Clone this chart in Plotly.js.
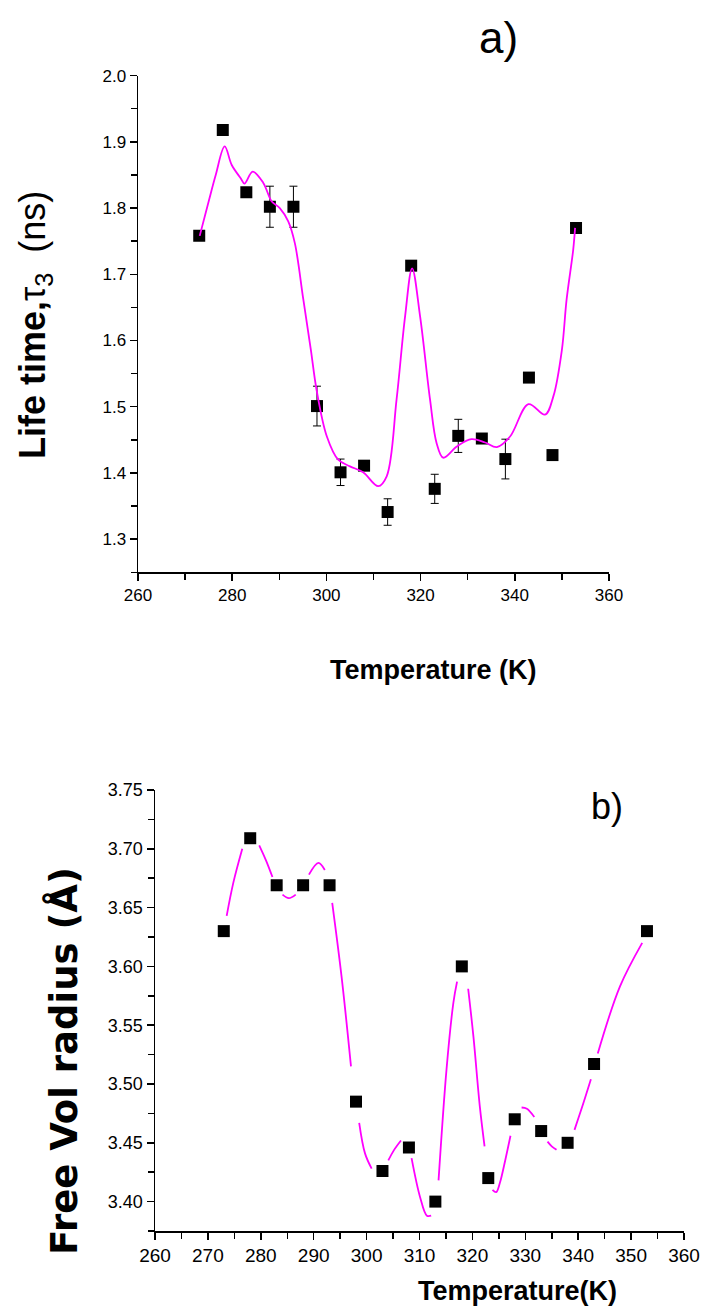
<!DOCTYPE html>
<html>
<head>
<meta charset="utf-8">
<script src="https://cdn.plot.ly/plotly-3.0.1.min.js"></script>
<style>html,body{margin:0;padding:0;background:#fff;}#chart{width:708px;height:1310px;}</style>
</head>
<body>
<div id="chart"></div>
<script>
// ---- Panel a) : positron lifetime tau3 ----
const tempA = [273, 278, 283, 288, 293, 298, 303, 308, 313, 318, 323, 328, 333, 338, 343, 348, 353];
const tau3 = [1.758, 1.918, 1.824, 1.802, 1.802, 1.501, 1.401, 1.411, 1.341, 1.713, 1.376, 1.456, 1.452, 1.421, 1.544, 1.427, 1.770];
const tau3Err = [0, 0, 0, 0.031, 0.031, 0.030, 0.020, 0, 0.020, 0, 0.022, 0.025, 0, 0.030, 0, 0, 0];
const fitTempA = [273.1, 275.0, 276.5, 278.4, 279.9, 281.8, 282.6, 284.35, 286.6, 288.4, 290.1, 291.9, 293.3, 295.1, 296.7, 297.9, 300.1, 302.5, 305.0, 307.8, 311.0, 312.8, 314.9, 316.7, 318.2, 319.9, 322.0, 323.4, 324.8, 327.7, 330.8, 333.7, 336.2, 339.0, 342.9, 346.4, 348.2, 350.0, 351.0, 352.4, 352.8];
const fitTau3 = [1.758, 1.810, 1.850, 1.893, 1.865, 1.845, 1.837, 1.855, 1.838, 1.810, 1.800, 1.780, 1.747, 1.662, 1.586, 1.526, 1.455, 1.420, 1.410, 1.401, 1.380, 1.395, 1.511, 1.636, 1.709, 1.636, 1.511, 1.445, 1.423, 1.440, 1.451, 1.446, 1.439, 1.455, 1.504, 1.488, 1.516, 1.586, 1.662, 1.737, 1.770];

// ---- Panel b) : free volume radius ----
const tempB = [273, 278, 283, 288, 293, 298, 303, 308, 313, 318, 323, 328, 333, 338, 343, 353];
const radius = [3.630, 3.709, 3.669, 3.669, 3.669, 3.485, 3.426, 3.446, 3.400, 3.600, 3.420, 3.470, 3.460, 3.450, 3.517, 3.630];
// fitted curve, broken (null) where it passes the symbols
const fitTempB = [273.55, 274.8, 276.5, null, 279.7, 281.0, 282.2, null, 284.1, 285.3, 286.6, null, 289.1, 290.9, 292.1, null, 293.5, 295.3, 297.05, null, 298.6, 299.7, 300.96, null, 304.1, 305.2, 306.5, null, 308.5, 310.1, 311.4, 312.2, null, 313.6, 315.1, 316.4, 317.1, null, 319.2, 320.2, 321.4, 322.3, null, 323.8, 324.5, 325.2, 326.2, 327.2, null, 329.3, 330.3, 331.7, null, 334.2, 335.0, 335.9, null, 339.3, 341.0, 342.4, null, 343.7, 347.9, 352.1];
const fitRadius = [3.643, 3.671, 3.700, null, 3.703, 3.690, 3.676, null, 3.661, 3.658, 3.661, null, 3.678, 3.688, 3.682, null, 3.654, 3.590, 3.515, null, 3.467, 3.441, 3.428, null, 3.435, 3.444, 3.452, null, 3.437, 3.404, 3.388, 3.388, null, 3.418, 3.512, 3.569, 3.587, null, 3.581, 3.540, 3.481, 3.447, null, 3.410, 3.408, 3.416, 3.435, 3.456, null, 3.480, 3.479, 3.472, null, 3.451, 3.447, 3.444, null, 3.461, 3.484, 3.504, null, 3.526, 3.583, 3.620];

const FONT = 'Liberation Sans, Arial, sans-serif';
const W = 708, H = 1310;
const px = v => v / W;
const py = v => 1 - v / H;

const traces = [
  {x: tempA, y: tau3, xaxis: 'x', yaxis: 'y', type: 'scatter', mode: 'markers',
   marker: {symbol: 'square', size: 12, color: '#000'},
   error_y: {type: 'data', array: tau3Err, visible: true, color: '#000', thickness: 1, width: 4}},
  {x: fitTempA, y: fitTau3, xaxis: 'x', yaxis: 'y', type: 'scatter', mode: 'lines',
   line: {color: '#ff00ff', width: 1.8, shape: 'spline', smoothing: 1}},
  {x: fitTempB, y: fitRadius, xaxis: 'x2', yaxis: 'y2', type: 'scatter', mode: 'lines',
   connectgaps: false, line: {color: '#ff00ff', width: 1.8, shape: 'spline', smoothing: 1}},
  {x: tempB, y: radius, xaxis: 'x2', yaxis: 'y2', type: 'scatter', mode: 'markers',
   marker: {symbol: 'square', size: 12, color: '#000'}}
];

const axBase = {
  showline: true, linecolor: '#000', linewidth: 1.5, mirror: false,
  showgrid: false, zeroline: false, ticks: 'outside', ticklen: 7, tickwidth: 1.5, tickcolor: '#000',
  fixedrange: true
};

const layout = {
  width: W, height: H, margin: {l: 0, r: 0, t: 0, b: 0},
  paper_bgcolor: '#fff', plot_bgcolor: 'rgba(0,0,0,0)', showlegend: false,
  font: {family: FONT, color: '#000'},
  xaxis: Object.assign({}, axBase, {
    domain: [px(138), px(609)], anchor: 'y', range: [260, 360],
    tick0: 260, dtick: 20, tickfont: {family: FONT, size: 17, color: '#000'},
    minor: {dtick: 10, ticks: 'outside', ticklen: 6, tickwidth: 1.5, tickcolor: '#000', showgrid: false}
  }),
  yaxis: Object.assign({}, axBase, {
    domain: [py(572.3), py(75.6)], anchor: 'x', range: [1.25, 2.0],
    tick0: 1.3, dtick: 0.1, tickformat: '.1f', tickfont: {family: FONT, size: 17, color: '#000'},
    minor: {dtick: 0.05, ticks: 'outside', ticklen: 6, tickwidth: 1.5, tickcolor: '#000', showgrid: false}
  }),
  xaxis2: Object.assign({}, axBase, {
    domain: [px(155), px(684)], anchor: 'y2', range: [260, 360],
    tick0: 260, dtick: 10, tickfont: {family: FONT, size: 19, color: '#000'},
    minor: {dtick: 5, ticks: 'outside', ticklen: 6, tickwidth: 1.5, tickcolor: '#000', showgrid: false}
  }),
  yaxis2: Object.assign({}, axBase, {
    domain: [py(1231), py(790)], anchor: 'x2', range: [3.375, 3.75],
    tick0: 3.4, dtick: 0.05, tickformat: '.2f', tickfont: {family: FONT, size: 18, color: '#000'},
    minor: {dtick: 0.025, ticks: 'outside', ticklen: 6, tickwidth: 1.5, tickcolor: '#000', showgrid: false}
  }),
  annotations: [
    {text: 'a)', xref: 'paper', yref: 'paper', x: px(498), y: py(38), xanchor: 'center', yanchor: 'middle',
     showarrow: false, font: {family: FONT, size: 44, color: '#000'}},
    {text: 'b)', xref: 'paper', yref: 'paper', x: px(607), y: py(806), xanchor: 'center', yanchor: 'middle',
     showarrow: false, font: {family: FONT, size: 36, color: '#000'}},
    {text: '<b>Temperature (K)</b>', xref: 'paper', yref: 'paper', x: px(433), y: py(670), xanchor: 'center', yanchor: 'middle',
     showarrow: false, font: {family: FONT, size: 27, color: '#000'}},
    {text: '<b>Temperature(K)</b>', xref: 'paper', yref: 'paper', x: px(517), y: py(1291), xanchor: 'center', yanchor: 'middle',
     showarrow: false, font: {family: FONT, size: 27, color: '#000'}},
    {text: '<b>Life time,</b>τ<sub>3</sub>&nbsp; (ns)', xref: 'paper', yref: 'paper', x: px(35), y: py(325), xanchor: 'center', yanchor: 'middle',
     textangle: -90, showarrow: false, font: {family: FONT, size: 36, color: '#000'}},
    {text: '<b>Free Vol radius (Å)</b>', xref: 'paper', yref: 'paper', x: px(64), y: py(1061), xanchor: 'center', yanchor: 'middle',
     textangle: -90, showarrow: false, font: {family: 'DejaVu Sans, sans-serif', size: 37, color: '#000'}}
  ]
};

Plotly.newPlot('chart', traces, layout, {staticPlot: true, displayModeBar: false});
</script>
</body>
</html>
